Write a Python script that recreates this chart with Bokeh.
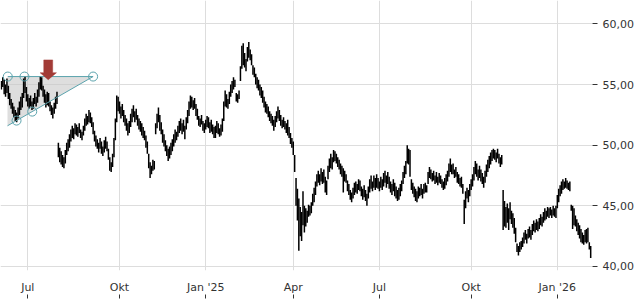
from bokeh.plotting import figure
from bokeh.models import Range1d, FixedTicker, Label
from bokeh.embed import file_html
from bokeh.resources import INLINE

# ---- data: daily high / low (trading-day index 1..N) ----
highs = [
    55.3, 55.6, 55.4, 55.0, 55.5, 54.9, 54.3, 53.8, 53.5, 53.2,
    52.9, 52.7, 53.1, 53.6, 54.0, 54.3, 55.5, 55.7, 54.8, 54.2,
    53.9, 54.1, 53.6, 53.9, 54.3, 54.0, 54.6, 55.2, 55.7, 55.6,
    54.9, 54.6, 54.2, 54.4, 54.3, 53.6, 53.3, 53.1, 53.5, 54.0,
    54.4, 50.2, 49.8, 49.5, 49.2, 49.0, 49.6, 50.2, 50.5, 50.9,
    51.3, 51.6, 51.4, 51.8, 51.7, 51.5, 51.8, 51.3, 51.1, 51.6,
    52.2, 52.6, 52.4, 52.9, 52.7, 52.3, 51.9, 51.2, 50.8, 50.5,
    50.2, 50.6, 50.3, 49.9, 50.4, 50.7, 50.3, 49.7, 49.0, 48.6,
    49.3, 50.6, 52.2, 54.1, 54.0, 53.6, 53.2, 53.4, 52.9, 52.5,
    52.2, 51.8, 52.0, 52.6, 53.0, 53.3, 52.8, 53.0, 52.5, 52.2,
    52.0, 51.8, 51.5, 51.2, 50.8, 50.3, 49.3, 48.6, 48.3, 48.8,
    48.7, 51.8, 52.6, 53.1, 52.5, 51.9, 51.3, 50.9, 50.4, 50.0,
    49.7, 49.9, 50.2, 50.5, 50.9, 51.3, 51.1, 51.6, 52.0, 52.2,
    51.8, 52.1, 51.6, 52.3, 52.9, 53.6, 54.1, 54.0, 53.7, 53.9,
    53.4, 53.0, 52.4, 52.2, 52.5, 52.0, 51.8, 52.1, 52.4, 52.3,
    51.9, 52.1, 51.7, 51.5, 51.6, 52.0, 51.8, 51.4, 51.7, 52.2,
    53.6, 54.5, 54.2, 53.8, 54.4, 55.0, 55.3, 55.6, 55.4, 54.3,
    54.2, 54.5, 56.5, 58.2, 58.4, 57.6, 57.1, 58.1, 58.5, 57.9,
    57.5, 56.6, 56.4, 55.9, 55.6, 55.4, 55.0, 54.8, 54.5, 54.0,
    53.6, 53.4, 53.2, 52.8, 52.6, 52.4, 52.1, 52.4, 52.8, 53.2,
    52.9, 52.5, 52.1, 52.3, 52.0, 51.8, 52.1, 51.5, 51.0, 50.6,
    50.3, 49.2, 47.3, 46.4, 45.6, 44.9, 44.5, 46.2, 45.0, 44.8,
    44.6, 45.1, 45.0, 45.3, 46.0, 46.5, 47.0, 47.6, 47.9, 47.6,
    48.1, 47.8, 48.0, 47.4, 47.1, 48.3, 48.9, 49.3, 49.0, 49.6,
    49.5, 49.3, 49.0, 48.8, 48.5, 48.3, 48.1, 47.9, 47.6, 47.1,
    46.8, 46.3, 46.1, 46.5, 46.9, 47.0, 46.8, 47.2, 47.1, 46.6,
    46.4, 46.7, 46.3, 46.0, 46.6, 47.2, 47.5, 47.0, 47.5, 47.3,
    47.6, 47.3, 47.0, 47.4, 47.2, 47.7, 47.9, 47.5, 47.8, 47.4,
    47.0, 46.8, 47.2, 46.9, 46.6, 46.3, 46.5, 46.8, 47.1, 47.8,
    48.3, 48.7, 50.0, 49.7, 49.6, 47.2, 46.9, 46.6, 46.4, 46.2,
    46.6, 46.5, 46.8, 46.4, 46.8, 46.9, 46.7, 47.8, 48.2, 48.0,
    47.7, 47.9, 47.5, 47.8, 47.4, 47.7, 47.5, 47.2, 47.0, 47.3,
    47.6, 47.9, 48.5, 48.9, 48.4, 48.5, 48.0, 48.2, 47.8, 47.6,
    47.3, 47.4, 46.8, 45.5, 46.2, 46.5, 46.3, 46.8, 47.2, 47.6,
    48.2, 48.7, 48.5, 48.0, 48.3, 48.0, 47.7, 47.4, 47.9, 48.4,
    48.8, 49.1, 49.4, 49.6, 49.7, 49.6, 49.4, 49.7, 49.3, 49.0,
    49.2, 46.3, 45.4, 44.9, 45.2, 44.8, 45.3, 44.6, 44.4, 44.0,
    43.2, 41.9, 41.7, 42.0, 42.1, 42.4, 42.8, 43.0, 42.7, 43.1,
    43.3, 43.0, 43.5, 43.8, 43.6, 43.9, 43.7, 44.0, 44.3, 44.1,
    44.5, 44.8, 44.6, 44.9, 44.8, 44.9, 44.7, 45.0, 44.8, 45.0,
    45.9, 46.4, 46.7, 47.0, 47.2, 47.0, 47.3, 47.1, 46.9, 47.0,
    45.1, 45.0, 44.8, 44.2, 43.9, 43.6, 43.4, 43.1, 42.8, 42.6,
    43.0, 43.1, 43.2, 42.0, 41.7,
]
lows = [
    54.6, 54.8, 54.2, 54.0, 54.3, 53.8, 53.3, 53.0, 52.6, 52.3,
    52.0, 51.9, 52.2, 52.5, 52.9, 53.1, 53.9, 54.3, 53.6, 53.2,
    53.0, 53.2, 52.9, 53.0, 53.4, 53.2, 53.5, 54.0, 54.6, 54.5,
    54.0, 53.5, 53.1, 53.3, 53.2, 52.8, 52.5, 52.2, 52.6, 53.0,
    53.4, 49.0, 48.6, 48.4, 48.2, 48.1, 48.5, 49.2, 49.5, 49.8,
    50.3, 50.6, 50.5, 50.9, 50.8, 50.7, 51.0, 50.6, 50.4, 50.8,
    51.2, 51.6, 51.7, 51.9, 51.8, 51.5, 50.9, 50.3, 49.9, 49.7,
    49.4, 49.7, 49.3, 49.1, 49.4, 49.7, 49.5, 48.8, 47.9, 47.8,
    48.2, 49.0, 50.4, 51.9, 52.8, 52.6, 52.2, 52.4, 51.9, 51.6,
    51.2, 50.8, 51.0, 51.5, 51.9, 52.3, 51.9, 52.1, 51.6, 51.3,
    51.1, 50.8, 50.6, 50.4, 49.8, 49.3, 48.1, 47.3, 47.6, 47.9,
    48.0, 50.9, 51.4, 51.9, 51.2, 50.9, 50.2, 49.9, 49.5, 49.1,
    48.7, 48.9, 49.2, 49.5, 49.9, 50.2, 50.4, 50.7, 51.0, 51.2,
    50.9, 51.1, 50.5, 51.3, 51.8, 52.4, 53.0, 53.1, 52.9, 53.0,
    52.4, 52.1, 51.6, 51.5, 51.7, 51.2, 51.0, 51.3, 51.5, 51.4,
    51.0, 51.1, 50.9, 50.6, 50.6, 51.0, 50.9, 50.7, 50.8, 51.1,
    52.0, 53.2, 53.1, 53.0, 53.4, 54.0, 54.3, 54.6, 54.8, 53.6,
    53.5, 53.8, 55.3, 56.3, 56.6, 56.4, 56.1, 56.9, 57.2, 57.0,
    56.6, 55.8, 55.6, 55.0, 54.7, 54.5, 54.1, 53.9, 53.5, 53.1,
    52.7, 52.6, 52.3, 52.0, 51.8, 51.6, 51.2, 51.5, 51.9, 52.2,
    52.0, 51.6, 51.4, 51.5, 51.3, 51.0, 50.8, 50.6, 50.1, 49.8,
    49.2, 47.8, 45.0, 43.8, 41.3, 42.5, 42.1, 43.4, 42.8, 43.3,
    43.6, 44.1, 44.2, 44.4, 45.0, 45.3, 45.9, 46.6, 46.9, 46.7,
    47.0, 46.8, 46.9, 46.1, 45.9, 47.2, 47.8, 48.1, 48.0, 48.6,
    48.7, 48.5, 48.2, 48.0, 47.6, 47.4, 46.1, 47.0, 46.9, 46.2,
    45.9, 45.5, 45.3, 45.6, 45.9, 46.1, 46.0, 46.3, 46.2, 45.8,
    45.5, 45.7, 45.4, 45.0, 45.6, 46.1, 46.4, 46.2, 46.5, 46.3,
    46.5, 46.4, 46.2, 46.5, 46.3, 46.6, 46.9, 46.5, 46.8, 46.4,
    46.1, 45.9, 46.2, 45.8, 45.6, 45.4, 45.5, 45.8, 46.2, 46.8,
    47.3, 47.6, 48.5, 48.4, 47.4, 46.3, 46.0, 45.7, 45.4, 45.3,
    45.6, 45.8, 45.9, 45.6, 46.0, 46.1, 46.1, 46.8, 47.3, 47.2,
    47.0, 47.1, 46.8, 46.9, 46.7, 46.9, 46.8, 46.5, 46.3, 46.4,
    46.7, 47.0, 47.4, 47.8, 47.6, 47.6, 47.3, 47.4, 46.9, 46.8,
    46.6, 46.5, 46.0, 43.5, 44.8, 45.6, 45.3, 45.8, 46.3, 46.6,
    47.1, 47.6, 47.4, 47.1, 47.3, 47.0, 46.8, 46.5, 46.9, 47.4,
    47.8, 48.1, 48.4, 48.7, 48.9, 48.8, 48.6, 48.9, 48.5, 48.2,
    48.4, 43.0, 43.3, 43.2, 43.6, 43.0, 43.9, 43.5, 43.2, 42.7,
    42.0, 41.2, 40.9, 41.2, 41.4, 41.6, 41.9, 42.2, 41.9, 42.3,
    42.4, 42.2, 42.6, 42.9, 42.8, 43.0, 42.9, 43.1, 43.4, 43.3,
    43.6, 43.8, 43.9, 44.1, 44.0, 44.2, 44.0, 44.2, 44.1, 44.0,
    44.8, 45.3, 45.8, 46.0, 46.3, 46.4, 46.5, 46.4, 46.3, 46.2,
    44.6, 43.1, 43.4, 43.3, 42.9, 42.6, 42.3, 42.0, 41.9, 41.8,
    42.0, 41.9, 42.0, 41.4, 40.7,
]
idx = list(range(1, len(highs) + 1))

month_ticks = [20, 86, 148, 211, 273, 339, 401]
month_labels = ["Jul", "Okt", "Jan '25", "Apr", "Jul", "Okt", "Jan '26"]
price_ticks = [40, 45, 50, 55, 60]
price_labels = ["40,00", "45,00", "50,00", "55,00", "60,00"]
last_price = 41.40
last_label = "41,40"

# chart pattern (triangle) drawn on the first weeks
tri_x = [5.4, 67.0, 5.4]
tri_y = [55.66, 55.66, 51.6]
top_line_x = [5.6, 67.0]
top_line_y = [55.66, 55.66]
low_line_x = [5.4, 67.0]
low_line_y = [51.6, 55.66]
pivot_x = [5.6, 17.6, 67.0, 11.9, 23.2]
pivot_y = [55.66, 55.66, 55.66, 52.03, 52.77]
arrow_x = [31.5, 37.9, 37.9, 40.6, 34.7, 28.9, 31.5]
arrow_y = [57.03, 57.03, 55.97, 55.97, 55.4, 55.97, 55.97]

TXT = "#333333"
GRID = "#dddddd"
TEAL = "#5ba3ad"

p = figure(width=640, height=300,
           x_range=Range1d(0.36, 426.3), y_range=Range1d(39.67, 61.93),
           y_axis_location="right", output_backend="svg", toolbar_location=None,
           min_border_left=0, min_border_top=0, min_border_right=48,
           min_border_bottom=30)
p.outline_line_color = None
p.background_fill_color = "white"
p.border_fill_color = "white"

# x axis: small tick marks sit below the month labels
p.xaxis.ticker = FixedTicker(ticks=month_ticks)
p.xaxis.major_label_overrides = dict(zip(month_ticks, month_labels))
p.xaxis.axis_line_color = None
p.xaxis.major_tick_in = -24
p.xaxis.major_tick_out = 28
p.xaxis.major_tick_line_color = TXT
p.xaxis.minor_tick_line_color = None
p.xaxis.major_label_standoff = -18
p.xaxis.major_label_text_font = "DejaVu Sans"
p.xaxis.major_label_text_font_size = "11px"
p.xaxis.major_label_text_color = TXT

# y axis
p.yaxis.ticker = FixedTicker(ticks=price_ticks)
p.yaxis.major_label_overrides = dict(zip(price_ticks, price_labels))
p.yaxis.axis_line_color = None
p.yaxis.major_tick_out = 5
p.yaxis.major_tick_in = 0
p.yaxis.major_tick_line_color = TXT
p.yaxis.minor_tick_line_color = None
p.yaxis.major_label_standoff = 5
p.yaxis.major_label_text_font = "DejaVu Sans"
p.yaxis.major_label_text_font_size = "11px"
p.yaxis.major_label_text_color = TXT

p.xgrid.grid_line_color = GRID
p.ygrid.grid_line_color = GRID

# pattern fill below the bars
p.patch(tri_x, tri_y, fill_color="#c8c8c8", fill_alpha=0.6, line_color=None)

# OHLC bars (high-low)
p.segment(x0=idx, y0=lows, x1=idx, y1=highs, line_color="black", line_width=1.5)

# pattern lines, pivots, arrow
p.line(top_line_x, top_line_y, line_color=TEAL, line_width=1)
p.line(low_line_x, low_line_y, line_color=TEAL, line_width=1)
p.scatter(pivot_x, pivot_y, size=9, marker="circle", fill_color=None,
          line_color=TEAL, line_width=1)
p.patch(arrow_x, arrow_y, fill_color="#a23b36", line_color="#a23b36", line_width=0.5)

p.add_layout(Label(x=433.9, y=last_price, text=last_label, text_baseline="middle",
                   text_font="DejaVu Sans", text_font_size="11px", text_color=TXT))

open("out.html", "w").write(file_html(p, INLINE))
